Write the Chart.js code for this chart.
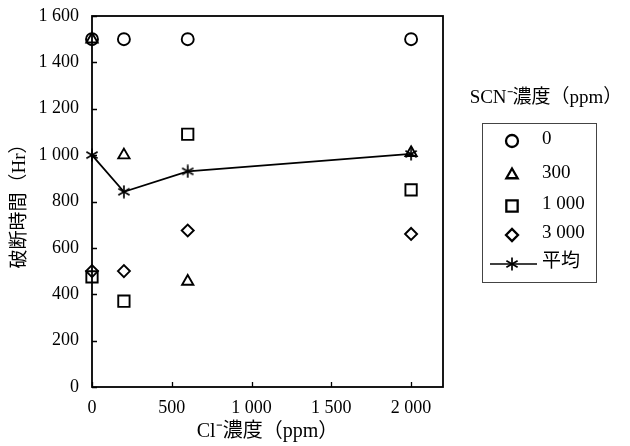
<!DOCTYPE html>
<html><head><meta charset="utf-8">
<script src="https://cdn.jsdelivr.net/npm/chart.js@4/dist/chart.umd.min.js"></script>
<style>html,body{margin:0;padding:0;background:#fff;}#wrap{width:630px;height:446px;}</style>
</head><body><div id="wrap"><canvas id="c" width="630" height="446"></canvas></div>
<script>
// ---- data ----
const clConc = [0, 200, 600, 2000];
const scn0 = [1500, 1500, 1500, 1500];
const scn300 = [1500, 1000, 455, 1010];
const scn1000 = [475, 370, 1090, 850];
const scn3000 = [500, 500, 675, 660];
const average = [1000, 842, 930, 1005];
const seriesLabels = ['0', '300', '1 000', '3 000', '平均'];
const xTickValues = [0, 500, 1000, 1500, 2000];
const xTickLabels = ['0', '500', '1 000', '1 500', '2 000'];
const yTickValues = [0, 200, 400, 600, 800, 1000, 1200, 1400, 1600];
const yTickLabels = ['0', '200', '400', '600', '800', '1 000', '1 200', '1 400', '1 600'];
const xTitle = 'Cl⁻濃度（ppm）';
const yTitle = '破断時間（Hr）';
const legendTitle = 'SCN⁻濃度（ppm）';

const FONT = "'Liberation Serif', 'Noto Sans CJK JP', serif";

function makeAsterisk(size, lw) {
  const c = document.createElement('canvas');
  c.width = size; c.height = size;
  const g = c.getContext('2d');
  g.strokeStyle = '#000'; g.lineWidth = lw;
  const cx = size / 2, cy = size / 2, r = size / 2 - 0.5;
  [90, 30, 150].forEach(a => {
    const rad = a * Math.PI / 180;
    g.beginPath();
    g.moveTo(cx - r * Math.cos(rad), cy - r * Math.sin(rad));
    g.lineTo(cx + r * Math.cos(rad), cy + r * Math.sin(rad));
    g.stroke();
  });
  return c;
}
const asterisk = makeAsterisk(14, 1.7);

function pts(ys) { return clConc.map((x, i) => ({x: x, y: ys[i]})); }

const markerDefs = [
  {data: scn0, style: 'circle', radius: 6},
  {data: scn300, style: 'triangle', radius: 6.5},
  {data: scn1000, style: 'rect', radius: 8},
  {data: scn3000, style: 'rectRot', radius: 6},
  {data: average, style: asterisk, radius: 7}
];

const datasets = markerDefs.map((m, i) => ({
  label: seriesLabels[i],
  data: pts(m.data),
  pointStyle: m.style,
  pointRadius: m.radius,
  pointHoverRadius: m.radius,
  pointBorderWidth: 1.9,
  pointBorderColor: '#000',
  pointBackgroundColor: 'rgba(0,0,0,0)',
  borderColor: '#000',
  borderWidth: 1.8,
  showLine: i === 4,
  clip: false,
  order: i === 4 ? 0 : 1
}));

const framePlugin = {
  id: 'frame',
  beforeDatasetsDraw(chart) {
    const {ctx, chartArea: a, scales} = chart;
    ctx.save();
    ctx.strokeStyle = '#000';
    ctx.lineWidth = 1.8;
    ctx.strokeRect(a.left, a.top, a.right - a.left, a.bottom - a.top);
    ctx.lineWidth = 1.3;
    ctx.beginPath();
    scales.y.ticks.forEach(t => {
      const y = Math.round(scales.y.getPixelForValue(t.value)) + 0.5;
      ctx.moveTo(a.left, y); ctx.lineTo(a.left + 5, y);
    });
    scales.x.ticks.forEach(t => {
      const x = Math.round(scales.x.getPixelForValue(t.value)) + 0.5;
      ctx.moveTo(x, a.bottom); ctx.lineTo(x, a.bottom - 5);
    });
    ctx.stroke();
    ctx.restore();
  }
};

function drawMarker(ctx, style, radius, x, y) {
  if (Chart.helpers && Chart.helpers.drawPoint) {
    Chart.helpers.drawPoint(ctx, {pointStyle: style, radius: radius, rotation: 0, borderWidth: 2}, x, y);
  }
}

const legendPlugin = {
  id: 'boxLegend',
  afterDraw(chart) {
    const ctx = chart.ctx;
    ctx.save();
    ctx.fillStyle = '#000';
    ctx.font = '19px ' + FONT;
    ctx.textAlign = 'center';
    ctx.textBaseline = 'middle';
    ctx.fillText(legendTitle, 546, 98);
    ctx.strokeStyle = '#444';
    ctx.lineWidth = 1;
    ctx.strokeRect(482.5, 123.5, 114, 159);
    const rowsY = [141, 175, 206, 235, 264];
    ctx.textAlign = 'left';
    ctx.font = '19px ' + FONT;
    markerDefs.forEach((m, i) => {
      const y = rowsY[i];
      ctx.strokeStyle = '#000';
      ctx.fillStyle = 'rgba(0,0,0,0)';
      ctx.lineWidth = 2.3;
      if (i === 4) {
        ctx.beginPath(); ctx.lineWidth = 1.5;
        ctx.moveTo(490, y); ctx.lineTo(537, y); ctx.stroke();
        ctx.lineWidth = 2.3;
      }
      drawMarker(ctx, m.style, m.radius, 512, y);
      ctx.fillStyle = '#000';
      ctx.fillText(seriesLabels[i], 542, y - 2);
    });
    ctx.restore();
  }
};

new Chart(document.getElementById('c'), {
  type: 'scatter',
  data: {datasets: datasets},
  options: {
    responsive: false,
    devicePixelRatio: 1,
    animation: false,
    events: [],
    layout: {padding: {top: 16, right: 187, bottom: 0, left: 0}},
    plugins: {legend: {display: false}, tooltip: {enabled: false}},
    scales: {
      x: {
        type: 'linear', min: 0, max: 2200,
        afterBuildTicks: s => { s.ticks = xTickValues.map(v => ({value: v})); },
        afterFit: s => { s.height = 59; s.paddingLeft = 0; s.paddingRight = 0; s.paddingTop = 0; s.paddingBottom = 0; },
        grid: {display: false, drawTicks: false},
        border: {display: false},
        ticks: {
          color: '#000', padding: 10, maxRotation: 0, autoSkip: false,
          font: {family: FONT, size: 18},
          callback: (v) => xTickLabels[xTickValues.indexOf(v)]
        },
        title: {display: true, text: xTitle, color: '#000', font: {family: FONT, size: 20}, padding: {top: 0, bottom: 2}}
      },
      y: {
        type: 'linear', min: 0, max: 1600,
        afterBuildTicks: s => { s.ticks = yTickValues.map(v => ({value: v})); },
        afterFit: s => { s.width = 92; s.paddingTop = 0; s.paddingBottom = 0; s.paddingLeft = 0; s.paddingRight = 0; },
        grid: {display: false, drawTicks: false},
        border: {display: false},
        ticks: {
          color: '#000', padding: 13, autoSkip: false,
          font: {family: FONT, size: 18},
          callback: (v) => yTickLabels[yTickValues.indexOf(v)]
        },
        title: {display: true, text: yTitle, color: '#000', font: {family: FONT, size: 19}, padding: {top: 9, bottom: 0}}
      }
    }
  },
  plugins: [framePlugin, legendPlugin]
});
</script>
</body></html>
